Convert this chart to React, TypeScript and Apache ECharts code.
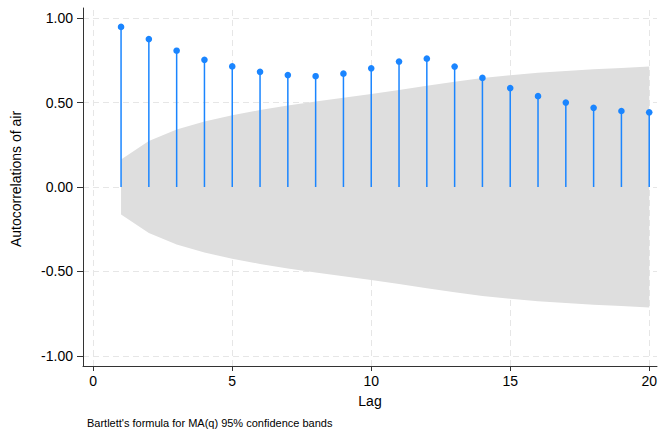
import React, { useEffect, useRef } from "react";
import * as echarts from "echarts";

const lags = [1, 2, 3, 4, 5, 6, 7, 8, 9, 10, 11, 12, 13, 14, 15, 16, 17, 18, 19, 20];
const acf = [0.948, 0.876, 0.807, 0.753, 0.714, 0.682, 0.663, 0.656, 0.671, 0.703, 0.743, 0.76, 0.713, 0.646, 0.586, 0.538, 0.5, 0.469, 0.45, 0.442];
const band = [0.163, 0.273, 0.34, 0.388, 0.425, 0.456, 0.482, 0.506, 0.528, 0.55, 0.574, 0.599, 0.624, 0.645, 0.662, 0.676, 0.687, 0.697, 0.705, 0.713];
const xTicks = [0, 5, 10, 15, 20];
const yTicks = [-1, -0.5, 0, 0.5, 1];

const FONT = '"Liberation Sans", Arial, Helvetica, sans-serif';
const BLUE = "#1a85ff";
const GRID = "#e6e6e6";

export default function App() {
  const ref = useRef<HTMLDivElement>(null);
  useEffect(() => {
    if (!ref.current) return;
    const chart = echarts.init(ref.current, null, { renderer: "svg" });
    const bandData = lags.map((l, i) => [l, band[i]]);
    const acfData = lags.map((l, i) => [l, acf[i]]);
    const gridLines = [
      ...yTicks.map((v) => ({ yAxis: v })),
      ...xTicks.map((v) => ({ xAxis: v })),
    ];
    chart.setOption({
      animation: false,
      textStyle: { fontFamily: FONT },
      grid: { left: 83, right: 0, top: 8, bottom: 68, containLabel: false },
      xAxis: {
        type: "value",
        min: -0.369,
        max: 20.28,
        name: "Lag",
        nameLocation: "middle",
        nameGap: 28,
        nameTextStyle: { fontSize: 14, color: "#000", fontFamily: FONT },
        axisLine: { show: true, onZero: false, lineStyle: { color: "#333", width: 1 } },
        axisTick: { show: true, length: 5, customValues: xTicks, lineStyle: { color: "#333" } },
        axisLabel: { customValues: xTicks, fontSize: 14, color: "#000", margin: 8, fontFamily: FONT },
        splitLine: { show: false },
      },
      yAxis: {
        type: "value",
        min: -1.06,
        max: 1.06,
        axisLine: { show: true, onZero: false, lineStyle: { color: "#333", width: 1 } },
        axisTick: { show: true, length: 6, customValues: yTicks, lineStyle: { color: "#333" } },
        axisLabel: {
          customValues: yTicks,
          fontSize: 14,
          color: "#000",
          margin: 10,
          fontFamily: FONT,
          formatter: (v: number) => v.toFixed(2),
        },
        splitLine: { show: false },
      },
      graphic: [
        {
          type: "text",
          x: 16,
          y: 179,
          rotation: Math.PI / 2,
          style: {
            text: "Autocorrelations of air",
            fontSize: 14,
            fill: "#000",
            fontFamily: FONT,
            align: "center",
            verticalAlign: "middle",
          },
        },
        {
          type: "text",
          left: 87,
          top: 417,
          style: {
            text: "Bartlett's formula for MA(q) 95% confidence bands",
            fontSize: 11,
            fill: "#000",
            fontFamily: FONT,
          },
        },
      ],
      series: [
        {
          type: "custom",
          name: "band",
          z: 1,
          silent: true,
          data: bandData,
          renderItem: (params: any, api: any) => {
            if (params.dataIndex !== 0) return null;
            const upper = bandData.map((d) => api.coord([d[0], d[1]]));
            const lower = bandData
              .slice()
              .reverse()
              .map((d) => api.coord([d[0], -d[1]]));
            return {
              type: "polygon",
              shape: { points: upper.concat(lower) },
              style: { fill: "#dedede", stroke: "none" },
            };
          },
          markLine: {
            silent: true,
            symbol: "none",
            label: { show: false },
            lineStyle: { color: GRID, type: [6, 4], width: 1 },
            data: gridLines,
            z: 0,
          },
        },
        {
          type: "custom",
          name: "acf",
          z: 3,
          data: acfData,
          renderItem: (params: any, api: any) => {
            const x = api.value(0);
            const y = api.value(1);
            const p0 = api.coord([x, 0]);
            const p1 = api.coord([x, y]);
            return {
              type: "group",
              children: [
                {
                  type: "line",
                  shape: { x1: p0[0], y1: p0[1], x2: p1[0], y2: p1[1] },
                  style: { stroke: BLUE, lineWidth: 1.5 },
                },
                {
                  type: "circle",
                  shape: { cx: p1[0], cy: p1[1], r: 3.3 },
                  style: { fill: BLUE, stroke: "none" },
                },
              ],
            };
          },
        },
      ],
    });
    return () => chart.dispose();
  }, []);
  return (
    <div
      ref={ref}
      style={{ position: "absolute", left: 0, top: 0, width: 660, height: 434, background: "#fff" }}
    />
  );
}
